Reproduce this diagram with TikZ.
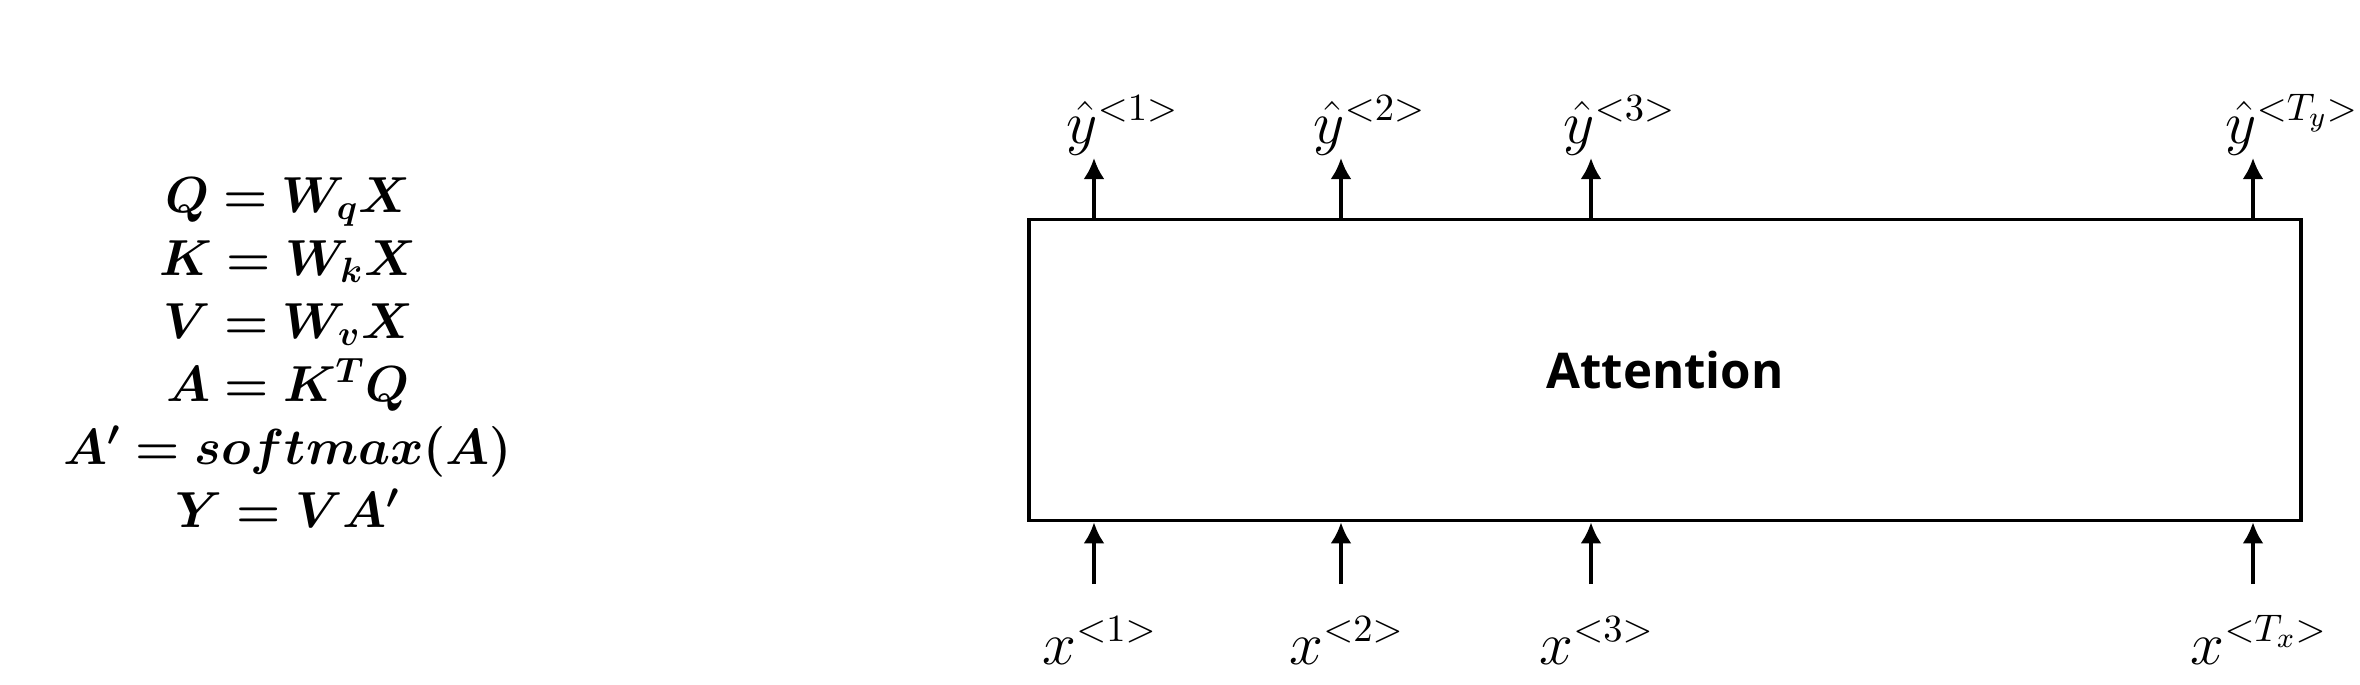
\documentclass[tikz,border=0pt]{standalone}
\usepackage{amsmath}
\usepackage{bm}
\usepackage{fontspec}
\newfontfamily\headfont{Open Sans}
\usetikzlibrary{positioning, calc, arrows.meta}

\begin{document}
\begin{tikzpicture}[x=0.01cm, y=-0.01cm, every node/.style={inner sep=0pt},
    flow/.style={-{Latex[length=6pt, width=6pt]}, line width=1pt},
    outlbl/.style={anchor=base west, font=\fontsize{16}{18}\selectfont},
    inlbl/.style={anchor=base, font=\fontsize{16}{18}\selectfont},
    eqn/.style={anchor=base, font=\fontsize{14}{16}\selectfont}]

    % Parameters
    \def\outtip{158} % tip of the output arrows
    \def\intail{584} % tail of the input arrows

    \useasboundingbox (0,0) rectangle (2360,684);

    % Equations on the left
    \foreach \eq [count=\i] in {{Q = W_q X}, {K = W_k X}, {V = W_v X}, {A = K^T Q}, {A' = softmax(A)}, {Y = V A'}} {
        \node[eqn] (eq\i) at (288, {212 + 63*(\i-1)}) {$\bm{\eq}$};
    }

    % Attention block
    \node[draw, line width=1pt, minimum width=12.71cm, minimum height=3.01cm,
          font=\headfont\bfseries\fontsize{14}{16}\selectfont] (attn) at (1665, 370) {Attention};

    % Inputs and outputs
    \foreach \xp/\ys/\xs [count=\i] in {1094/1/1, 1341/2/2, 1591/3/3, 2253/T_y/T_x} {
        \coordinate (top\i) at (\xp, \outtip);
        \coordinate (in\i) at (\xp, \intail);

        \draw[flow] (attn.north -| top\i) -- (top\i);
        \draw[flow] (in\i) -- (in\i |- attn.south);

        \node[outlbl] (yhat\i) at (\xp - 28, 143) {$\smash{\hat{y}}^{<\ys>}$};
        \node[inlbl] (x\i) at (\xp + 6, 664) {$x^{<\xs>}$};
    }

\end{tikzpicture}
\end{document}
